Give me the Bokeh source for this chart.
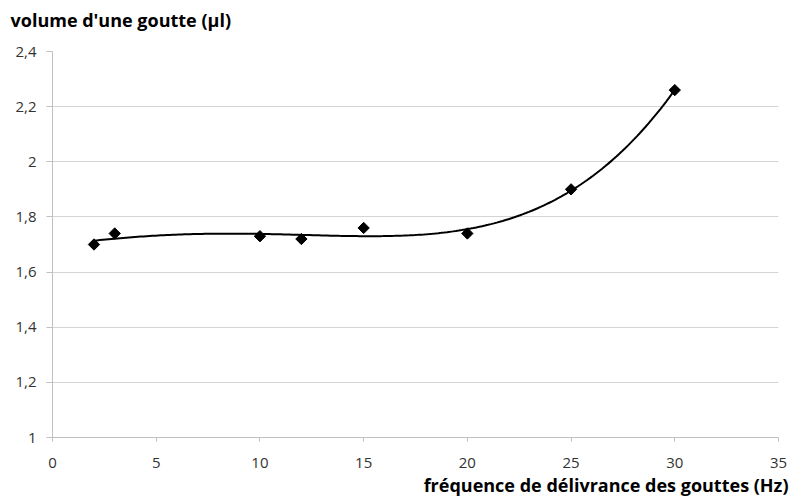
import numpy as np
from bokeh.plotting import figure
from bokeh.models import FixedTicker, CustomJSTickFormatter, Title, Range1d
from bokeh.embed import file_html
from bokeh.resources import INLINE

# data
freq_hz = [2, 3, 10, 12, 15, 20, 25, 30]
volume_ul = [1.70, 1.74, 1.73, 1.72, 1.76, 1.74, 1.90, 2.26]
x_ticks = [0, 5, 10, 15, 20, 25, 30, 35]
y_ticks = [1.0, 1.2, 1.4, 1.6, 1.8, 2.0, 2.2, 2.4]
title_text = "volume d'une goutte (µl)"
xlabel_text = "fréquence de délivrance des gouttes (Hz)"
trend_order = 4

p = figure(width=794, height=502, output_backend="svg", toolbar_location=None,
           x_range=Range1d(0, 35), y_range=Range1d(1, 2.4),
           min_border_left=52, min_border_right=16, min_border_top=50, min_border_bottom=65)
p.outline_line_color = None
p.background_fill_color = "white"
p.border_fill_color = "white"

# trendline (polynomial fit of the data)
coef = np.polyfit(freq_hz, volume_ul, trend_order)
xs = np.linspace(min(freq_hz), max(freq_hz), 200)
p.line(xs, np.polyval(coef, xs), line_color="black", line_width=2)

p.scatter(freq_hz, volume_ul, marker="square", angle=np.pi / 4, size=8,
          fill_color="black", line_color="black")

for ax in (p.xaxis[0], p.yaxis[0]):
    ax.axis_line_color = "#c0c0c0"
    ax.major_tick_line_color = "#c0c0c0"
    ax.minor_tick_line_color = None
    ax.major_tick_in = 0
    ax.major_label_text_font = "Open Sans"
    ax.major_label_text_font_size = "15px"
    ax.major_label_text_color = "#333333"

p.xaxis.ticker = FixedTicker(ticks=x_ticks)
p.yaxis.ticker = FixedTicker(ticks=y_ticks)
p.xaxis.major_tick_out = 4
p.yaxis.major_tick_out = 6
p.xaxis.major_label_standoff = 16
p.yaxis.major_label_standoff = 10
p.yaxis.formatter = CustomJSTickFormatter(code="return String(Math.round(tick*10)/10).replace('.', ',');")

p.xgrid.grid_line_color = None
p.ygrid.grid_line_color = "#d4d4d4"
p.ygrid.grid_line_width = 1

p.title = Title(text=title_text, align="left", offset=-42, text_font="Open Sans",
                text_font_style="bold", text_font_size="18px", text_color="black",
                standoff=10)
# empty spacer panel between the title and the plot area
p.add_layout(Title(text=" ", text_font_size="1px", standoff=12), "above")
p.add_layout(Title(text=xlabel_text, align="right", offset=-10, text_font="Open Sans",
                   text_font_style="bold", text_font_size="18px", text_color="black",
                   standoff=0), "below")

open("out.html", "w").write(file_html(p, INLINE))
